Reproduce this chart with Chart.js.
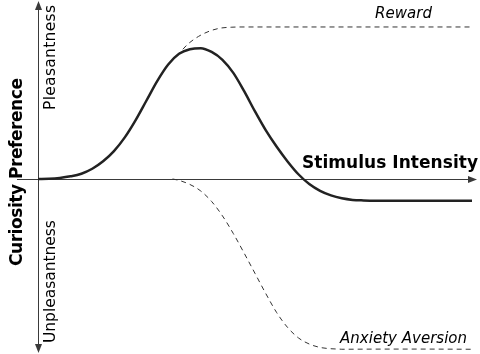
<!DOCTYPE html>
<html>
<head>
<meta charset="utf-8">
<script src="https://cdn.jsdelivr.net/npm/chart.js@4"></script>
<style>
  html, body { margin: 0; padding: 0; background: #fff; }
  #wrap { width: 480px; height: 354px; position: relative; }
</style>
</head>
<body>
<div id="wrap"><canvas id="curiosityChart"></canvas></div>
<script>
// Curve samples: stimulus intensity (0-10) and preference (peak = 1)
const curiosityX = [0, 0.25, 0.5, 0.75, 1, 1.25, 1.5, 1.75, 2, 2.25, 2.5, 2.75, 3, 3.25, 3.5, 3.75, 4, 4.25, 4.5, 4.75, 5, 5.25, 5.5, 5.75, 6, 6.25, 6.5, 6.75, 7, 7.25, 7.5, 7.75, 10];
const curiosityY = [0, 0.002, 0.008, 0.02, 0.04, 0.078, 0.135, 0.213, 0.318, 0.45, 0.6, 0.75, 0.875, 0.957, 0.992, 1.0, 0.971, 0.911, 0.811, 0.671, 0.516, 0.371, 0.246, 0.134, 0.036, -0.039, -0.091, -0.126, -0.148, -0.16, -0.164, -0.166, -0.166];

const rewardX = [3.2, 3.45, 3.7, 3.95, 4.2, 4.45, 4.7, 10];
const rewardY = [0.94, 1.03, 1.09, 1.13, 1.153, 1.16, 1.162, 1.162];

const anxietyX = [3.1, 3.25, 3.5, 3.75, 4, 4.25, 4.5, 4.75, 5, 5.25, 5.5, 5.75, 6, 6.25, 6.5, 6.75, 7, 10];
const anxietyY = [0, -0.011, -0.042, -0.092, -0.172, -0.282, -0.417, -0.567, -0.722, -0.877, -1.022, -1.135, -1.215, -1.262, -1.288, -1.298, -1.302, -1.302];

const toPoints = (xs, ys) => xs.map((x, i) => ({ x: x, y: ys[i] }));

const fontFamily = '"DejaVu Sans", sans-serif';

// text nudged with letter spacing so it spans the given width
function fittedText(ctx, text, x, y, width, font, vertical) {
    ctx.save();
    ctx.translate(x, y);
    if (vertical) ctx.rotate(-Math.PI / 2);
    ctx.font = font;
    ctx.textAlign = 'left';
    ctx.textBaseline = 'alphabetic';
    ctx.letterSpacing = '0px';
    const w = ctx.measureText(text).width;
    ctx.letterSpacing = ((width - w) / (text.length - 1)).toFixed(2) + 'px';
    ctx.fillText(text, 0, 0);
    ctx.restore();
}

// Draws the two arrowed axes and all the text labels
const diagramPlugin = {
    id: 'diagram',
    beforeDatasetsDraw(chart) {
        const ctx = chart.ctx;
        const x0 = Math.round(chart.scales.x.getPixelForValue(0));
        const y0 = Math.round(chart.scales.y.getPixelForValue(0));
        const xEnd = chart.width - 3;

        ctx.save();
        ctx.strokeStyle = '#3a3a3a';
        ctx.fillStyle = '#3a3a3a';
        ctx.lineWidth = 1;

        // horizontal axis
        ctx.beginPath();
        ctx.moveTo(17, y0 + 0.5);
        ctx.lineTo(xEnd - 6, y0 + 0.5);
        ctx.stroke();
        ctx.beginPath();
        ctx.moveTo(xEnd, y0 + 0.5);
        ctx.lineTo(xEnd - 9, y0 - 3);
        ctx.lineTo(xEnd - 9, y0 + 4);
        ctx.closePath();
        ctx.fill();

        // vertical axis, arrows both ends
        const top = 1, bottom = chart.height - 1;
        ctx.beginPath();
        ctx.moveTo(x0 + 0.5, top + 6);
        ctx.lineTo(x0 + 0.5, bottom - 6);
        ctx.stroke();
        ctx.beginPath();
        ctx.moveTo(x0 + 0.5, top);
        ctx.lineTo(x0 - 3, top + 9);
        ctx.lineTo(x0 + 4, top + 9);
        ctx.closePath();
        ctx.fill();
        ctx.beginPath();
        ctx.moveTo(x0 + 0.5, bottom);
        ctx.lineTo(x0 - 3, bottom - 9);
        ctx.lineTo(x0 + 4, bottom - 9);
        ctx.closePath();
        ctx.fill();
        ctx.restore();
    },
    afterDraw(chart) {
        const ctx = chart.ctx;
        ctx.save();
        ctx.fillStyle = '#000';
        fittedText(ctx, 'Stimulus Intensity', 302, 168, 176, 'bold 17px ' + fontFamily, false);
        fittedText(ctx, 'Reward', 375, 18, 57, 'italic 15px ' + fontFamily, false);
        fittedText(ctx, 'Anxiety Aversion', 340, 343, 127, 'italic 15px ' + fontFamily, false);
        fittedText(ctx, 'Curiosity Preference', 22, 266, 188, 'bold 17px ' + fontFamily, true);
        fittedText(ctx, 'Pleasantness', 55, 110, 105, '15.5px ' + fontFamily, true);
        fittedText(ctx, 'Unpleasantness', 55, 343, 123, '15.5px ' + fontFamily, true);
        ctx.restore();
    }
};

const lineStyle = { pointRadius: 0, cubicInterpolationMode: 'monotone', fill: false, clip: false };

new Chart(document.getElementById('curiosityChart'), {
    type: 'line',
    data: {
        datasets: [
            Object.assign({
                label: 'Curiosity',
                data: toPoints(curiosityX, curiosityY),
                borderColor: '#222',
                borderWidth: 2.5
            }, lineStyle),
            Object.assign({
                label: 'Reward',
                data: toPoints(rewardX, rewardY),
                borderColor: '#333',
                borderWidth: 1,
                borderDash: [5, 4]
            }, lineStyle),
            Object.assign({
                label: 'Anxiety Aversion',
                data: toPoints(anxietyX, anxietyY),
                borderColor: '#333',
                borderWidth: 1,
                borderDash: [5, 4]
            }, lineStyle)
        ]
    },
    options: {
        responsive: true,
        maintainAspectRatio: false,
        animation: false,
        layout: { padding: { left: 38, right: 8, top: 22, bottom: 5 } },
        scales: {
            x: { type: 'linear', min: 0, max: 10, display: false },
            y: { type: 'linear', min: -1.3, max: 1.2, display: false }
        },
        plugins: {
            legend: { display: false },
            tooltip: { enabled: false }
        }
    },
    plugins: [diagramPlugin]
});
</script>
</body>
</html>
